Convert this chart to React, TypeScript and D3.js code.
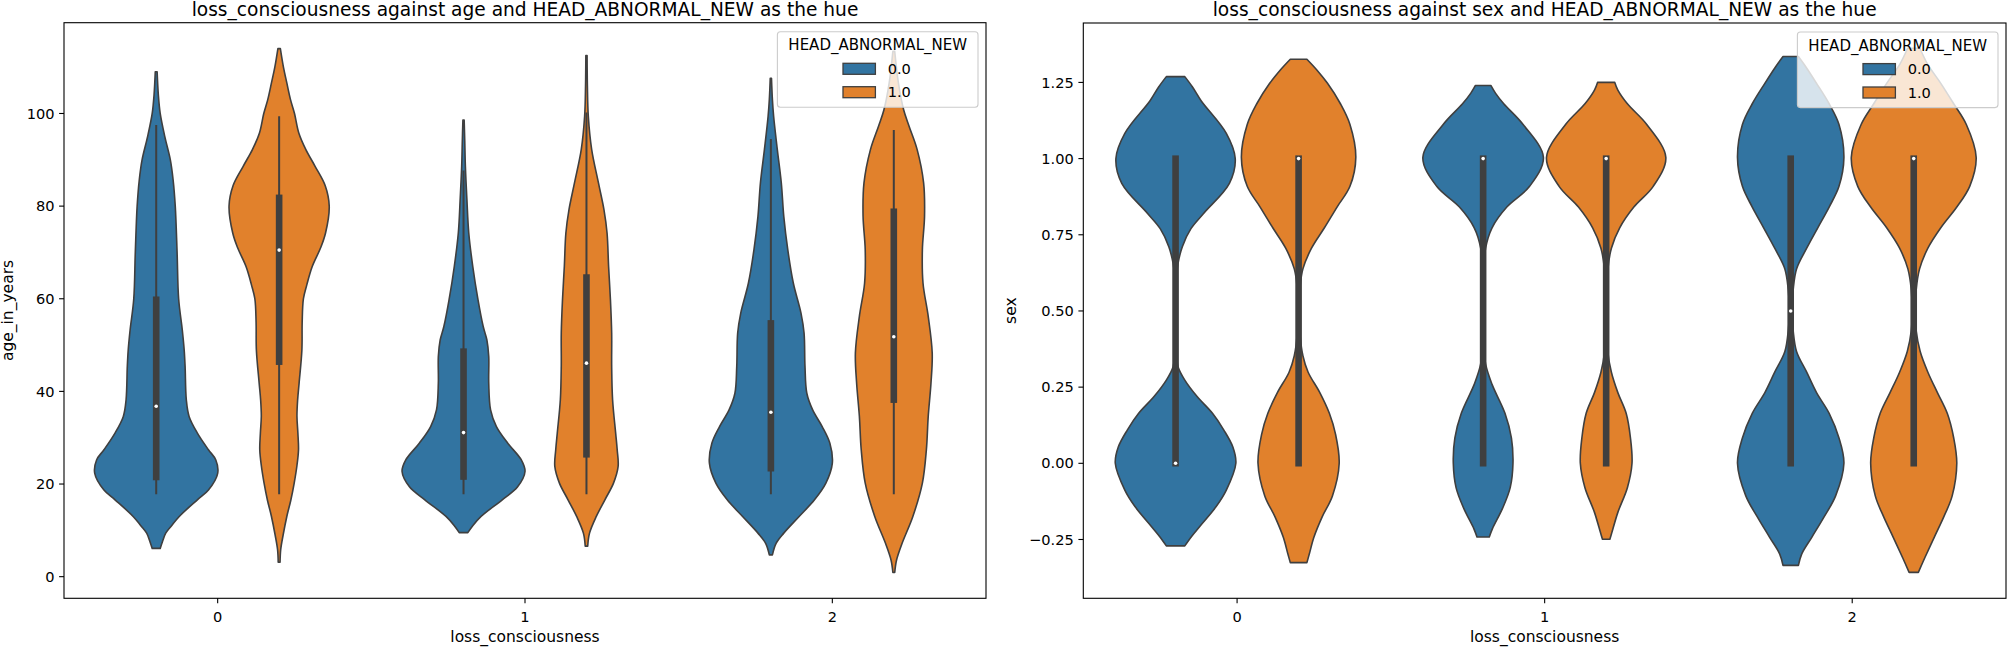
import React from 'react';
import * as d3 from 'd3';

// ---------- data ----------
const categories = [0, 1, 2];
const hueLevels = ['0.0', '1.0'];
const hueColors = ['#3274a1', '#e1812c'];
const GRAY = '#3f3f3f';

// Violin profiles: [value, half-width in category units]
// Age panel
const ageBlue0 = [[6.1,0.013],[7.5,0.02],[9.4,0.031],[11,0.05],[13,0.075],[16.6,0.134],[18.7,0.17],[22.3,0.2],[25.2,0.194],[27.4,0.17],[31,0.134],[34.6,0.107],[38.2,0.098],[45.4,0.094],[49,0.091],[53.2,0.085],[60,0.073],[70,0.068],[80,0.062],[85.7,0.055],[90,0.046],[95,0.028],[100,0.013],[104,0.007],[109,0.003]];
const ageOrange0 = [[3.1,0.003],[5.8,0.005],[9,0.013],[13,0.025],[16.5,0.038],[20.2,0.049],[24,0.058],[27.4,0.063],[31,0.061],[34.6,0.058],[38,0.06],[41.8,0.065],[48.9,0.074],[55,0.075],[60,0.079],[63,0.09],[67,0.108],[71,0.135],[74.2,0.151],[80,0.163],[84.4,0.15],[88.6,0.117],[92.2,0.087],[95.8,0.064],[100,0.05],[103,0.037],[106.6,0.025],[110,0.014],[114,0.004]];
const ageBlue1 = [[9.5,0.014],[11,0.03],[13,0.057],[16.6,0.126],[19.4,0.176],[22.7,0.2],[25.2,0.188],[28.8,0.144],[32.4,0.107],[36,0.088],[41.8,0.082],[47.5,0.082],[51.1,0.076],[54,0.064],[59.8,0.047],[67,0.03],[74.2,0.017],[81.4,0.011],[88.6,0.006],[94,0.004],[98.6,0.002]];
const ageOrange1 = [[6.6,0.004],[9.4,0.01],[13,0.032],[16.6,0.06],[20.2,0.088],[23.8,0.103],[27.4,0.1],[31,0.095],[38.2,0.085],[45.4,0.082],[52.6,0.082],[59.8,0.078],[67,0.072],[74.2,0.067],[79.2,0.057],[85,0.039],[92.2,0.017],[99.4,0.006],[106,0.003],[112.5,0.002]];
const ageBlue2 = [[4.7,0.005],[7.2,0.017],[9.4,0.042],[13,0.092],[16.6,0.142],[20.2,0.179],[24.5,0.2],[28.8,0.192],[32.4,0.167],[36,0.136],[39.6,0.117],[45.4,0.111],[52.6,0.108],[56.9,0.098],[63.4,0.073],[70.6,0.055],[77.8,0.042],[85,0.034],[92.2,0.021],[99.4,0.009],[103,0.005],[107.6,0.002]];
const ageOrange2 = [[0.9,0.003],[3.6,0.009],[7.2,0.027],[13,0.062],[20.2,0.093],[27.4,0.106],[34.6,0.112],[41.8,0.121],[48.3,0.125],[56.2,0.112],[63.4,0.095],[70.6,0.093],[77.8,0.1],[85,0.097],[92.2,0.076],[97.2,0.05],[100.8,0.032],[106.6,0.015],[113.4,0.003]];
// box stats: [whiskerLow, q1, median, q3, whiskerHigh]
const ageBoxBlue = [[18,21.5,36.8,59.8,97.3],[18,21.6,31.1,48.6,87.5],[18,23.4,35.5,54.7,94.3]];
const ageBoxOrange = [[18,46.4,70.5,81.8,99.2],[18,26.4,46.1,64.6,100],[18,38.2,51.8,78.8,96.2]];
const ageTicks = [0, 20, 40, 60, 80, 100];

// Sex panel
const sexBlue0 = [[-0.271,0.03],[-0.24,0.052],[-0.208,0.078],[-0.142,0.132],[-0.088,0.165],[0,0.196],[0.054,0.186],[0.109,0.157],[0.164,0.12],[0.219,0.07],[0.273,0.03],[0.317,0.008],[0.36,0.004],[0.5,0.002],[0.62,0.004],[0.656,0.008],[0.711,0.022],[0.77,0.05],[0.82,0.091],[0.919,0.175],[1.0,0.194],[1.083,0.165],[1.19,0.083],[1.235,0.055],[1.269,0.03]];
const sexOrange0 = [[-0.326,0.027],[-0.297,0.035],[-0.242,0.05],[-0.175,0.077],[-0.107,0.11],[0,0.132],[0.096,0.12],[0.164,0.1],[0.232,0.069],[0.299,0.031],[0.353,0.014],[0.42,0.005],[0.5,0.003],[0.58,0.005],[0.638,0.014],[0.706,0.042],[0.773,0.084],[0.841,0.125],[0.909,0.167],[1.004,0.186],[1.112,0.167],[1.18,0.136],[1.247,0.094],[1.29,0.06],[1.326,0.027]];
const sexBlue1 = [[-0.242,0.02],[-0.215,0.03],[-0.148,0.063],[-0.08,0.088],[0,0.097],[0.083,0.092],[0.164,0.071],[0.259,0.029],[0.326,0.008],[0.4,0.003],[0.5,0.002],[0.62,0.003],[0.706,0.008],[0.773,0.029],[0.841,0.077],[0.909,0.151],[1.004,0.196],[1.112,0.13],[1.18,0.067],[1.215,0.04],[1.24,0.025]];
const sexOrange1 = [[-0.249,0.012],[-0.229,0.018],[-0.161,0.038],[-0.08,0.069],[0,0.084],[0.083,0.079],[0.164,0.065],[0.232,0.038],[0.299,0.017],[0.36,0.006],[0.5,0.002],[0.64,0.006],[0.706,0.017],[0.773,0.044],[0.841,0.09],[0.909,0.153],[1.004,0.194],[1.112,0.132],[1.18,0.069],[1.225,0.038],[1.25,0.028]];
const sexBlue2 = [[-0.335,0.025],[-0.297,0.036],[-0.242,0.069],[-0.175,0.109],[-0.107,0.146],[0,0.173],[0.083,0.157],[0.164,0.125],[0.232,0.084],[0.299,0.052],[0.367,0.019],[0.435,0.008],[0.502,0.004],[0.57,0.008],[0.638,0.019],[0.706,0.052],[0.773,0.088],[0.841,0.125],[0.909,0.157],[1.004,0.173],[1.112,0.157],[1.18,0.125],[1.247,0.084],[1.3,0.05],[1.335,0.025]];
const sexOrange2 = [[-0.358,0.015],[-0.31,0.036],[-0.242,0.067],[-0.175,0.098],[-0.107,0.125],[0,0.14],[0.083,0.13],[0.164,0.109],[0.232,0.077],[0.299,0.046],[0.367,0.021],[0.435,0.008],[0.5,0.005],[0.57,0.008],[0.638,0.019],[0.706,0.046],[0.773,0.088],[0.841,0.14],[0.909,0.182],[1.004,0.203],[1.112,0.171],[1.18,0.13],[1.247,0.088],[1.31,0.045],[1.362,0.02]];
const sexBoxBlue = [[0,0,0,1,1],[0,0,1,1,1],[0,0,0.5,1,1]];
const sexBoxOrange = [[0,0,1,1,1],[0,0,1,1,1],[0,0,1,1,1]];
const sexTicks = [-0.25, 0, 0.25, 0.5, 0.75, 1.0, 1.25];

const FONT = 'DejaVu Sans, sans-serif';

type PanelProps = {
  left: number; right: number; top: number; bottom: number;
  yDomain: [number, number]; ticks: number[]; fmt: (v: number) => string;
  title: string; ylabel: string; ylabelX: number;
  violins: number[][][][]; // [cat][hue] -> profile
  boxes: number[][][]; // [hue][cat]
};

function Panel(p: PanelProps) {
  const x = d3.scaleLinear().domain([-0.5, 2.5]).range([p.left, p.right]);
  const y = d3.scaleLinear().domain(p.yDomain).range([p.bottom, p.top]);
  const offsets = [-0.2, 0.2];
  const cx = (p.left + p.right) / 2;
  const cy = (p.top + p.bottom) / 2;

  const els: React.ReactNode[] = [];
  categories.forEach((c, ci) => {
    hueLevels.forEach((h, hi) => {
      const center = c + offsets[hi];
      const prof = p.violins[ci][hi];
      const area = d3.area<number[]>()
        .y(d => y(d[0]))
        .x0(d => x(center - d[1]))
        .x1(d => x(center + d[1]))
        .curve(d3.curveCatmullRom.alpha(0.5));
      els.push(<path key={`v${ci}${hi}`} d={area(prof) || ''} fill={hueColors[hi]} stroke={GRAY} strokeWidth={1.6} strokeLinejoin="round" />);
      const [wlo, q1, med, q3, whi] = p.boxes[hi][ci];
      const px = x(center);
      els.push(<line key={`w${ci}${hi}`} x1={px} x2={px} y1={y(wlo) + 1} y2={y(whi) - 1} stroke={GRAY} strokeWidth={2} />);
      els.push(<rect key={`b${ci}${hi}`} x={px - 3.3} width={6.6} y={y(q3) - 3.2} height={y(q1) - y(q3) + 6.4} fill={GRAY} />);
      els.push(<circle key={`m${ci}${hi}`} cx={px} cy={y(med)} r={1.8} fill="#ffffff" />);
    });
  });

  // legend
  const lw = 200.6, lh = 75.6;
  const lx = p.right - 8 - lw, ly = p.top + 9;

  return (
    <g>
      {els}
      {/* axes frame */}
      <rect x={p.left} y={p.top} width={p.right - p.left} height={p.bottom - p.top} fill="none" stroke="#000" strokeWidth={1.1} />
      {/* y ticks */}
      {p.ticks.map(t => (
        <g key={`yt${t}`}>
          <line x1={p.left - 4.9} x2={p.left} y1={y(t)} y2={y(t)} stroke="#000" strokeWidth={1.1} />
          <text x={p.left - 9.5} y={y(t)} dy="0.35em" textAnchor="end" fontFamily={FONT} fontSize={14.6} fill="#000">{p.fmt(t)}</text>
        </g>
      ))}
      {/* x ticks */}
      {categories.map(c => (
        <g key={`xt${c}`}>
          <line x1={x(c)} x2={x(c)} y1={p.bottom} y2={p.bottom + 4.9} stroke="#000" strokeWidth={1.1} />
          <text x={x(c)} y={621.5} textAnchor="middle" fontFamily={FONT} fontSize={14.6} fill="#000">{String(c)}</text>
        </g>
      ))}
      <text x={cx} y={642} textAnchor="middle" fontFamily={FONT} fontSize={15.5} fill="#000">loss_consciousness</text>
      <text transform={`translate(${p.ylabelX},${cy}) rotate(-90)`} textAnchor="middle" fontFamily={FONT} fontSize={15.5} fill="#000">{p.ylabel}</text>
      <text x={cx} y={15.5} textAnchor="middle" fontFamily={FONT} fontSize={18.6} fill="#000">{p.title}</text>
      {/* legend */}
      <rect x={lx} y={ly} width={lw} height={lh} rx={3} fill="#ffffff" fillOpacity={0.8} stroke="#cccccc" strokeWidth={1.1} />
      <text x={lx + lw / 2} y={ly + 18.5} textAnchor="middle" fontFamily={FONT} fontSize={15} fill="#000">HEAD_ABNORMAL_NEW</text>
      {hueLevels.map((h, hi) => (
        <g key={`lg${hi}`}>
          <rect x={lx + 65.6} y={ly + 31.6 + hi * 23.4} width={32.4} height={11} fill={hueColors[hi]} stroke={GRAY} strokeWidth={1.3} />
          <text x={lx + 110.3} y={ly + 37.1 + hi * 23.4} dy="0.35em" fontFamily={FONT} fontSize={14.6} fill="#000">{h}</text>
        </g>
      ))}
    </g>
  );
}

export default function App() {
  const ageViolins = [[ageBlue0, ageOrange0], [ageBlue1, ageOrange1], [ageBlue2, ageOrange2]];
  const sexViolins = [[sexBlue0, sexOrange0], [sexBlue1, sexOrange1], [sexBlue2, sexOrange2]];
  const fmtAge = (v: number) => d3.format('d')(v);
  const fmtSex = (v: number) => d3.format('.2f')(v).replace('-', '\u2212');
  return (
    <svg width={2008} height={648} style={{ position: 'absolute', left: 0, top: 0, display: 'block', background: '#fff' }}>
      <rect x={0} y={0} width={2008} height={648} fill="#fff" />
      <Panel left={64} right={986} top={22.7} bottom={598.3} yDomain={[-4.67, 119.6]} ticks={ageTicks} fmt={fmtAge}
        title="loss_consciousness against age and HEAD_ABNORMAL_NEW as the hue" ylabel="age_in_years" ylabelX={12.5}
        violins={ageViolins} boxes={[ageBoxBlue, ageBoxOrange]} />
      <Panel left={1083.3} right={2006} top={23} bottom={598.3} yDomain={[-0.443, 1.445]} ticks={sexTicks} fmt={fmtSex}
        title="loss_consciousness against sex and HEAD_ABNORMAL_NEW as the hue" ylabel="sex" ylabelX={1015.5}
        violins={sexViolins} boxes={[sexBoxBlue, sexBoxOrange]} />
    </svg>
  );
}
